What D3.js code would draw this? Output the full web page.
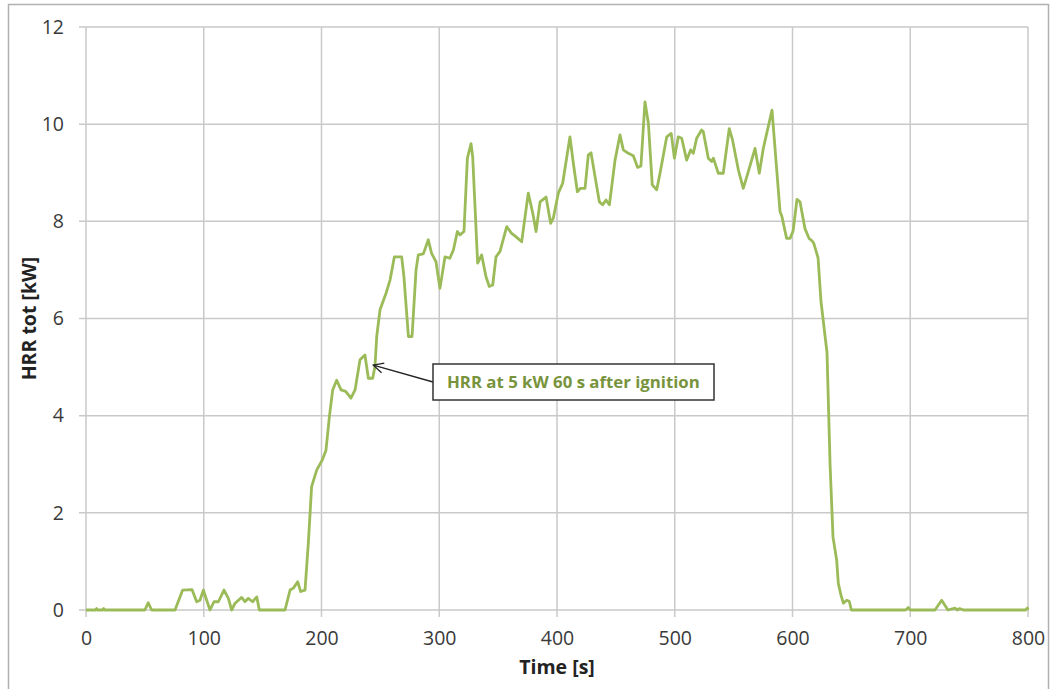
<!DOCTYPE html>
<html>
<head>
<meta charset="utf-8">
<script src="https://cdn.jsdelivr.net/npm/d3@7"></script>
<style>
  body { margin: 0; background: #fff; }
  svg { display: block; }
  .tick text { font-family: "Open Sans", sans-serif; font-size: 19.5px; fill: #3a3a3a; }
  .title { font-family: "Open Sans", sans-serif; font-weight: bold; font-size: 19.5px; fill: #222; }
</style>
</head>
<body>
<div id="chart"></div>
<script>
// HRR curve
var times = [0, 8, 9, 10, 14, 15, 16, 50, 52.9, 55.7, 75.6, 82.1, 90, 94, 96.8, 99.7, 102.5, 105.3, 108.7, 112.4, 117.2, 120.9, 123.7,
  126.6, 132.2, 135, 137.8, 141.5, 145, 147.2, 169, 173.3, 176.1, 179.8, 182.3, 186, 188.8, 191.6, 195.9, 200.7, 203.8, 206.7,
  209.5, 212.9, 216.6, 220.5, 225, 228.5, 232.7, 236.9, 239.8, 243.5, 245.4, 246.9, 249.7, 254.8, 258.2, 261.9, 268.1, 270,
  273.8, 276.9, 280.3, 282.2, 286.5, 290.7, 293.5, 297.2, 300.6, 304.9, 309, 312, 315.4, 317.6, 321, 323.9, 327, 328.4, 332.6,
  336, 339.7, 342.5, 345.4, 348.2, 351.6, 357.3, 361.5, 365.3, 370, 375.6, 379.4, 382.2, 385.6, 390.7, 394.6, 396.9, 401.1,
  404.8, 411, 413.9, 417.3, 420, 423.8, 426.6, 428.9, 432.3, 436, 438.8, 441.6, 444.5, 449.3, 453.5, 456.3, 460.6, 464.8,
  468.5, 471.3, 474.7, 477.6, 480.9, 484.7, 487.5, 493.2, 497, 499.7, 503, 505.9, 510.1, 513.5, 515.8, 518.6, 522.8, 524.2,
  528.5, 531.4, 532.8, 537, 541.2, 546.3, 549.1, 554, 558.2, 561.6, 568.2, 571.8, 575.2, 582.6, 589.4, 591, 595, 598, 600.5,
  603.8, 606.4, 610.6, 614, 616.5, 618, 621.7, 624.2, 629.3, 631.9, 634.4, 637.5, 638.9, 641.2, 643.2, 646, 648.2, 650,
  696, 698.4, 700, 721, 726.7, 732, 738, 740, 742, 745, 747, 798, 799.5, 800];
var hrr = [0, 0, 0.03, 0, 0, 0.03, 0, 0, 0.15, 0, 0, 0.41, 0.42, 0.17, 0.2, 0.41, 0.2, 0, 0.17, 0.17, 0.41, 0.24, 0,
  0.14, 0.26, 0.17, 0.24, 0.17, 0.27, 0, 0, 0.41, 0.45, 0.58, 0.38, 0.41, 1.37, 2.54, 2.88, 3.09, 3.29, 3.98,
  4.53, 4.73, 4.53, 4.5, 4.36, 4.53, 5.15, 5.25, 4.77, 4.77, 5.01, 5.63, 6.18, 6.52, 6.79, 7.27, 7.27, 6.86,
  5.63, 5.63, 7.0, 7.31, 7.33, 7.62, 7.34, 7.17, 6.62, 7.27, 7.24, 7.41, 7.79, 7.72, 7.79, 9.3, 9.6, 9.33, 7.14,
  7.31, 6.86, 6.66, 6.69, 7.27, 7.38, 7.89, 7.75, 7.68, 7.58, 8.58, 8.17, 7.79, 8.4, 8.5, 7.96, 8.07, 8.58,
  8.78, 9.74, 9.19, 8.61, 8.68, 8.68, 9.37, 9.41, 8.92, 8.4, 8.34, 8.44, 8.34, 9.26, 9.78, 9.47, 9.4, 9.35,
  9.11, 9.14, 10.46, 10.02, 8.75, 8.65, 8.99, 9.74, 9.81, 9.3, 9.74, 9.71, 9.26, 9.47, 9.4, 9.71, 9.88, 9.85,
  9.3, 9.23, 9.3, 8.99, 8.99, 9.91, 9.67, 9.06, 8.68, 8.95, 9.5, 8.99, 9.5, 10.29, 8.2, 8.1, 7.65, 7.65, 7.8,
  8.45, 8.4, 7.85, 7.65, 7.6, 7.55, 7.25, 6.35, 5.3, 3.0, 1.5, 1.03, 0.55, 0.3, 0.14, 0.2, 0.18, 0,
  0, 0.05, 0, 0, 0.2, 0, 0.04, 0, 0.03, 0, 0, 0, 0.04, 0];

var xTicks = [0, 100, 200, 300, 400, 500, 600, 700, 800];
var yTicks = [0, 2, 4, 6, 8, 10, 12];
var noteText = "HRR at 5 kW 60 s after ignition";
var notePoint = [244, 5.04];

var width = 1055, height = 689;
var plotLeft = 86, plotRight = 1028, plotTop = 27, plotBottom = 610;

var svg = d3.select("#chart").append("svg")
    .attr("width", width)
    .attr("height", height);

// outer frame
svg.append("rect")
    .attr("x", 8.5).attr("y", 4.5)
    .attr("width", 1040).attr("height", 700)
    .attr("fill", "none").attr("stroke", "#b0b0b0").attr("stroke-width", 1.5);

var x = d3.scaleLinear().domain([0, 800]).range([plotLeft, plotRight]);
var y = d3.scaleLinear().domain([0, 12]).range([plotBottom, plotTop]);

// gridlines, poking a few px past the axes like tick marks
svg.append("g").selectAll("line")
    .data(xTicks)
  .enter().append("line")
    .attr("x1", function(d) { return x(d); })
    .attr("x2", function(d) { return x(d); })
    .attr("y1", plotTop)
    .attr("y2", plotBottom + 7)
    .attr("stroke", "#c9c9c9").attr("stroke-width", 1.5);

svg.append("g").selectAll("line")
    .data(yTicks)
  .enter().append("line")
    .attr("x1", plotLeft - 7)
    .attr("x2", plotRight)
    .attr("y1", function(d) { return y(d); })
    .attr("y2", function(d) { return y(d); })
    .attr("stroke", "#c9c9c9").attr("stroke-width", 1.5);

// tick labels
svg.append("g")
    .attr("transform", "translate(0," + plotBottom + ")")
    .call(d3.axisBottom(x).tickValues(xTicks).tickSize(0).tickPadding(21).tickFormat(d3.format("d")))
    .call(function(g) { g.select(".domain").remove(); });

svg.append("g")
    .attr("transform", "translate(" + plotLeft + ",0)")
    .call(d3.axisLeft(y).tickValues(yTicks).tickSize(0).tickPadding(22).tickFormat(d3.format("d")))
    .call(function(g) { g.select(".domain").remove(); });

// axis titles
svg.append("text")
    .attr("class", "title")
    .attr("x", (plotLeft + plotRight) / 2)
    .attr("y", 674)
    .attr("text-anchor", "middle")
    .text("Time [s]");

svg.append("text")
    .attr("class", "title")
    .attr("transform", "translate(36," + ((plotTop + plotBottom) / 2) + ") rotate(-90)")
    .attr("text-anchor", "middle")
    .text("HRR tot [kW]");

// the curve
var line = d3.line()
    .x(function(d, i) { return x(times[i]); })
    .y(function(d) { return y(d); });

svg.append("path")
    .datum(hrr)
    .attr("fill", "none")
    .attr("stroke", "#9bbb59")
    .attr("stroke-width", 2.8)
    .attr("stroke-linejoin", "round")
    .attr("d", line);

// annotation
var boxX = 433, boxY = 364, boxW = 281, boxH = 36;

svg.append("defs").append("marker")
    .attr("id", "arrow")
    .attr("viewBox", "0 0 12 12")
    .attr("refX", 11).attr("refY", 6)
    .attr("markerWidth", 12).attr("markerHeight", 12)
    .attr("markerUnits", "userSpaceOnUse")
    .attr("orient", "auto")
  .append("path")
    .attr("d", "M1,1 L11,6 L1,11")
    .attr("fill", "none").attr("stroke", "#222").attr("stroke-width", 1.3);

svg.append("line")
    .attr("x1", boxX).attr("y1", boxY + 18)
    .attr("x2", x(notePoint[0])).attr("y2", y(notePoint[1]))
    .attr("stroke", "#222").attr("stroke-width", 1.3)
    .attr("marker-end", "url(#arrow)");

svg.append("rect")
    .attr("x", boxX).attr("y", boxY)
    .attr("width", boxW).attr("height", boxH)
    .attr("fill", "#fff").attr("stroke", "#333").attr("stroke-width", 1.5);

svg.append("text")
    .attr("x", boxX + 14)
    .attr("y", boxY + 24)
    .attr("font-family", "'Open Sans', sans-serif")
    .attr("font-weight", "bold")
    .attr("font-size", 16.8)
    .attr("fill", "#77933c")
    .text(noteText);
</script>
</body>
</html>
